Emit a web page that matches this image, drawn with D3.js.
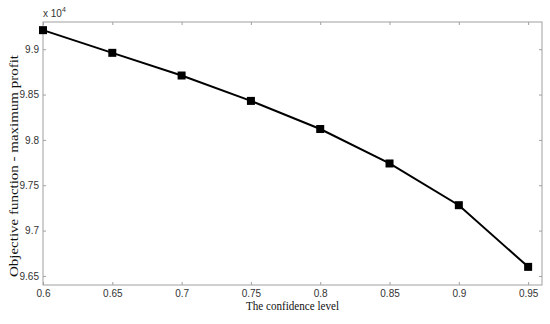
<!DOCTYPE html>
<html>
<head>
<meta charset="utf-8">
<script src="https://cdn.jsdelivr.net/npm/d3@7"></script>
<style>
  body { margin: 0; background: #fff; }
  svg { display: block; }
</style>
</head>
<body>
<svg width="550" height="324"></svg>
<script>
// confidence level vs objective (x 10^4)
var confidence = [0.6, 0.65, 0.7, 0.75, 0.8, 0.85, 0.9, 0.95];
var profit = [9.921, 9.896, 9.871, 9.843, 9.812, 9.774, 9.728, 9.660];
var xTicks = [0.6, 0.65, 0.7, 0.75, 0.8, 0.85, 0.9, 0.95];
var yTicks = [9.65, 9.7, 9.75, 9.8, 9.85, 9.9];

var svg = d3.select("svg"),
    margin = {top: 22, right: 8, bottom: 39, left: 43},
    width = 550 - margin.left - margin.right,
    height = 324 - margin.top - margin.bottom,
    g = svg.append("g").attr("transform", "translate(" + margin.left + "," + margin.top + ")");

var x = d3.scaleLinear().domain([0.6, 0.96]).range([0, width]),
    y = d3.scaleLinear().domain([9.64, 9.93]).range([height, 0]);

var axisColor = "#a0a0a0";

function styleAxis(sel, showText) {
  sel.select(".domain").remove();
  sel.selectAll(".tick line").attr("stroke", axisColor);
  sel.selectAll(".tick text")
      .attr("fill", showText ? "#333" : "none")
      .style("font", "10px 'Liberation Sans', Arial, sans-serif");
}

// bottom + top
g.append("g")
    .attr("transform", "translate(0," + height + ")")
    .call(d3.axisBottom(x).tickValues(xTicks).tickSize(-3).tickPadding(5).tickFormat(d3.format("")))
    .call(function(s) { styleAxis(s, true); });
g.append("g")
    .call(d3.axisTop(x).tickValues(xTicks).tickSize(-3).tickFormat(""))
    .call(function(s) { styleAxis(s, false); });

// left + right
g.append("g")
    .call(d3.axisLeft(y).tickValues(yTicks).tickSize(-3).tickPadding(4).tickFormat(d3.format("")))
    .call(function(s) { styleAxis(s, true); });
g.append("g")
    .attr("transform", "translate(" + width + ",0)")
    .call(d3.axisRight(y).tickValues(yTicks).tickSize(-3).tickFormat(""))
    .call(function(s) { styleAxis(s, false); });

// box
g.append("rect")
    .attr("width", width)
    .attr("height", height)
    .attr("fill", "none")
    .attr("stroke", axisColor)
    .attr("stroke-width", 1);

var line = d3.line()
    .x(function(d, i) { return x(confidence[i]); })
    .y(function(d) { return y(d); });

g.append("path")
    .datum(profit)
    .attr("d", line)
    .attr("fill", "none")
    .attr("stroke", "#000")
    .attr("stroke-width", 2);

g.selectAll(".pt")
    .data(profit)
  .enter().append("rect")
    .attr("class", "pt")
    .attr("x", function(d, i) { return x(confidence[i]) - 4; })
    .attr("y", function(d) { return y(d) - 4; })
    .attr("width", 8)
    .attr("height", 8)
    .attr("fill", "#000");

// exponent label
var ex = svg.append("text")
    .attr("x", margin.left)
    .attr("y", 17)
    .style("font", "10px 'Liberation Sans', Arial, sans-serif")
    .attr("fill", "#333");
ex.append("tspan").text("x 10");
ex.append("tspan").attr("dy", -5).style("font-size", "7px").text("4");

svg.append("text")
    .attr("x", margin.left + width / 2)
    .attr("y", 310)
    .attr("text-anchor", "middle")
    .attr("textLength", 93)
    .attr("lengthAdjust", "spacingAndGlyphs")
    .style("font", "13px 'Liberation Serif', 'Times New Roman', serif")
    .attr("fill", "#111")
    .text("The confidence level");

svg.append("text")
    .attr("transform", "translate(18,166) rotate(-90)")
    .attr("text-anchor", "middle")
    .attr("textLength", 222)
    .attr("lengthAdjust", "spacingAndGlyphs")
    .style("font", "13px 'Liberation Serif', 'Times New Roman', serif")
    .attr("fill", "#111")
    .text("Objective function - maximum profit");
</script>
</body>
</html>
